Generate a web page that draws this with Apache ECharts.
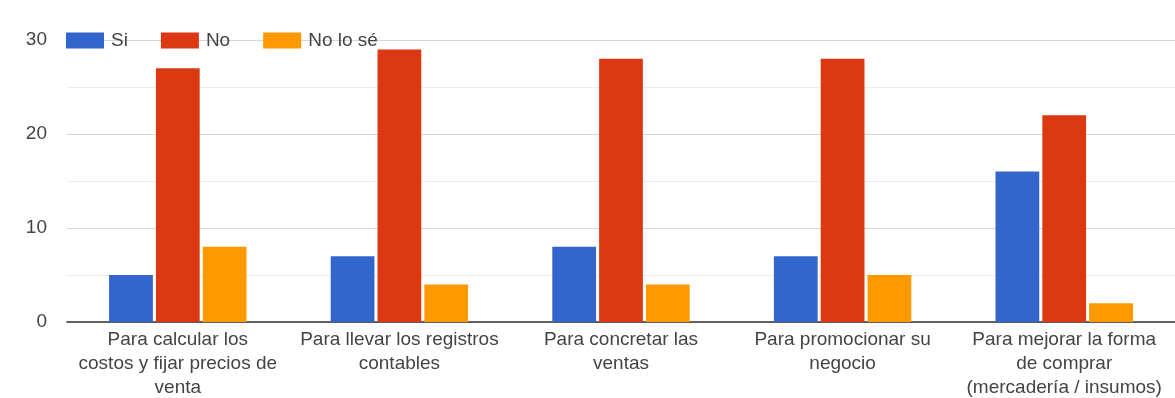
<!DOCTYPE html>
<html>
<head>
<meta charset="utf-8">
<script src="https://cdn.jsdelivr.net/npm/echarts@6/dist/echarts.min.js"></script>
<style>
  html, body { margin: 0; padding: 0; background: #fff; }
  #chart { width: 1175px; height: 398px; }
</style>
</head>
<body>
<div id="chart"></div>
<script>
// Survey categories (line breaks as shown under each group)
const categories = [
  'Para calcular los\ncostos y fijar precios de\nventa',
  'Para llevar los registros\ncontables',
  'Para concretar las\nventas',
  'Para promocionar su\nnegocio',
  'Para mejorar la forma\nde comprar\n(mercadería / insumos)'
];
const seriesNames = ['Si', 'No', 'No lo sé'];
const siValues = [5, 7, 8, 7, 16];
const noValues = [27, 29, 28, 28, 22];
const noSeValues = [8, 4, 4, 5, 2];
const yTicks = [0, 10, 20, 30];

const colors = ['#3366cc', '#dc3912', '#ff9900'];
const font = 'Liberation Sans, Arial, sans-serif';
const textColor = '#444';

const chart = echarts.init(document.getElementById('chart'), null, { renderer: 'canvas' });

const mkSeries = (name, data, color) => ({
  name,
  type: 'bar',
  data,
  barGap: '7%',
  barCategoryGap: '38%',
  itemStyle: { color },
  emphasis: { disabled: true },
  z: 3
});

chart.setOption({
  animation: false,
  backgroundColor: '#ffffff',
  color: colors,
  textStyle: { fontFamily: font },
  legend: {
    left: 66,
    top: 31,
    padding: 0,
    itemWidth: 38,
    itemHeight: 16,
    itemGap: 33,
    icon: 'rect',
    data: seriesNames,
    textStyle: { color: textColor, fontSize: 19, fontFamily: font, padding: [0, 0, 0, 2] }
  },
  grid: {
    left: 67, right: 0, top: 40, bottom: 76,
    containLabel: false,
    outerBoundsMode: 'none'
  },
  xAxis: {
    type: 'category',
    data: categories,
    axisTick: { show: false },
    axisLine: { lineStyle: { color: '#333', width: 1.5 } },
    axisLabel: {
      color: textColor,
      fontSize: 19,
      lineHeight: 24,
      margin: 6,
      interval: 0,
      align: 'center'
    }
  },
  yAxis: {
    type: 'value',
    min: yTicks[0],
    max: yTicks[yTicks.length - 1],
    interval: 10,
    axisLine: { show: false },
    axisTick: { show: false },
    axisLabel: { color: textColor, fontSize: 19, margin: 20 },
    splitLine: { lineStyle: { color: '#d6d6d6', width: 1 } },
    minorTick: { show: false, splitNumber: 2 },
    minorSplitLine: { show: true, lineStyle: { color: '#ececec', width: 1 } }
  },
  series: [
    mkSeries(seriesNames[0], siValues, colors[0]),
    mkSeries(seriesNames[1], noValues, colors[1]),
    mkSeries(seriesNames[2], noSeValues, colors[2])
  ]
});
</script>
</body>
</html>
